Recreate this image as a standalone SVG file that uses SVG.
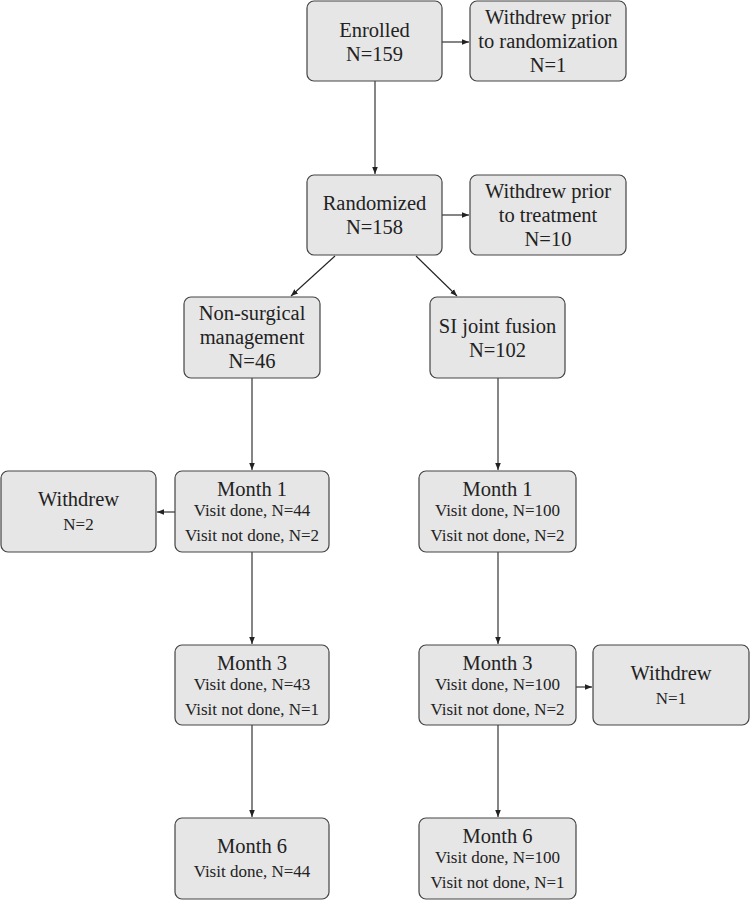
<svg xmlns="http://www.w3.org/2000/svg" width="750" height="901" viewBox="0 0 750 901">
<defs>
<marker id="ah" viewBox="0 0 10 10" refX="10" refY="5" markerWidth="7" markerHeight="7" orient="auto" markerUnits="userSpaceOnUse"><path d="M0,1 L10,5 L0,9 z" fill="#222"/></marker>
<style>
.box{fill:#e6e6e6;stroke:#444;stroke-width:1.2}
text{font-family:"Liberation Serif","Times New Roman",serif;fill:#222;text-anchor:middle}
.t{font-size:20.5px}
.s{font-size:17px}
.c{stroke:#222;stroke-width:1.1;fill:none;marker-end:url(#ah)}
</style>
</defs>
<rect width="750" height="901" fill="#fff"/>
<g id="connectors">
<line class="c" x1="442" y1="42" x2="469" y2="42"/>
<line class="c" x1="375" y1="81" x2="375" y2="174"/>
<line class="c" x1="442" y1="215" x2="469" y2="215"/>
<line class="c" x1="335" y1="256" x2="291" y2="296"/>
<line class="c" x1="416" y1="256" x2="457" y2="296"/>
<line class="c" x1="252" y1="378" x2="252" y2="470"/>
<line class="c" x1="498" y1="378" x2="498" y2="470"/>
<line class="c" x1="175" y1="512" x2="157" y2="512"/>
<line class="c" x1="252" y1="552" x2="252" y2="644"/>
<line class="c" x1="498" y1="552" x2="498" y2="644"/>
<line class="c" x1="576" y1="687" x2="592" y2="687"/>
<line class="c" x1="252" y1="725" x2="252" y2="817"/>
<line class="c" x1="498" y1="725" x2="498" y2="817"/>
</g>
<g id="enrolled"><rect class="box" x="307" y="1" width="135" height="80" rx="7"/><text class="t" x="374.5" y="37">Enrolled</text><text class="t" x="374.5" y="61">N=159</text></g>
<g id="withdrew-rand"><rect class="box" x="470" y="1" width="156" height="80" rx="7"/><text class="t" x="548" y="24">Withdrew prior</text><text class="t" x="548" y="48">to randomization</text><text class="t" x="548" y="72">N=1</text></g>
<g id="randomized"><rect class="box" x="307" y="175" width="135" height="80" rx="7"/><text class="t" x="374.5" y="210">Randomized</text><text class="t" x="374.5" y="234">N=158</text></g>
<g id="withdrew-treat"><rect class="box" x="470" y="175" width="156" height="80" rx="7"/><text class="t" x="548" y="198">Withdrew prior</text><text class="t" x="548" y="222">to treatment</text><text class="t" x="548" y="246">N=10</text></g>
<g id="nonsurgical"><rect class="box" x="184" y="297" width="136" height="81" rx="7"/><text class="t" x="252" y="320">Non-surgical</text><text class="t" x="252" y="344">management</text><text class="t" x="252" y="368">N=46</text></g>
<g id="sifusion"><rect class="box" x="430" y="297" width="135" height="81" rx="7"/><text class="t" x="497.5" y="333">SI joint fusion</text><text class="t" x="497.5" y="357">N=102</text></g>
<g id="withdrew-left"><rect class="box" x="1" y="471" width="155" height="81" rx="7"/><text class="t" x="78.5" y="506">Withdrew</text><text class="s" x="78.5" y="530">N=2</text></g>
<g id="m1-left"><rect class="box" x="175" y="471" width="154" height="81" rx="7"/><text class="t" x="252" y="496">Month 1</text><text class="s" x="252" y="516">Visit done, N=44</text><text class="s" x="252" y="541">Visit not done, N=2</text></g>
<g id="m1-right"><rect class="box" x="419" y="471" width="157" height="81" rx="7"/><text class="t" x="497.5" y="496">Month 1</text><text class="s" x="497.5" y="516">Visit done, N=100</text><text class="s" x="497.5" y="541">Visit not done, N=2</text></g>
<g id="m3-left"><rect class="box" x="175" y="645" width="154" height="80" rx="7"/><text class="t" x="252" y="670">Month 3</text><text class="s" x="252" y="690">Visit done, N=43</text><text class="s" x="252" y="715">Visit not done, N=1</text></g>
<g id="m3-right"><rect class="box" x="419" y="645" width="157" height="80" rx="7"/><text class="t" x="497.5" y="670">Month 3</text><text class="s" x="497.5" y="690">Visit done, N=100</text><text class="s" x="497.5" y="715">Visit not done, N=2</text></g>
<g id="withdrew-right"><rect class="box" x="593" y="645" width="156" height="80" rx="7"/><text class="t" x="671" y="680">Withdrew</text><text class="s" x="671" y="704">N=1</text></g>
<g id="m6-left"><rect class="box" x="175" y="818" width="154" height="81" rx="7"/><text class="t" x="252" y="853">Month 6</text><text class="s" x="252" y="877">Visit done, N=44</text></g>
<g id="m6-right"><rect class="box" x="419" y="818" width="157" height="81" rx="7"/><text class="t" x="497.5" y="843">Month 6</text><text class="s" x="497.5" y="863">Visit done, N=100</text><text class="s" x="497.5" y="888">Visit not done, N=1</text></g>
</svg>
